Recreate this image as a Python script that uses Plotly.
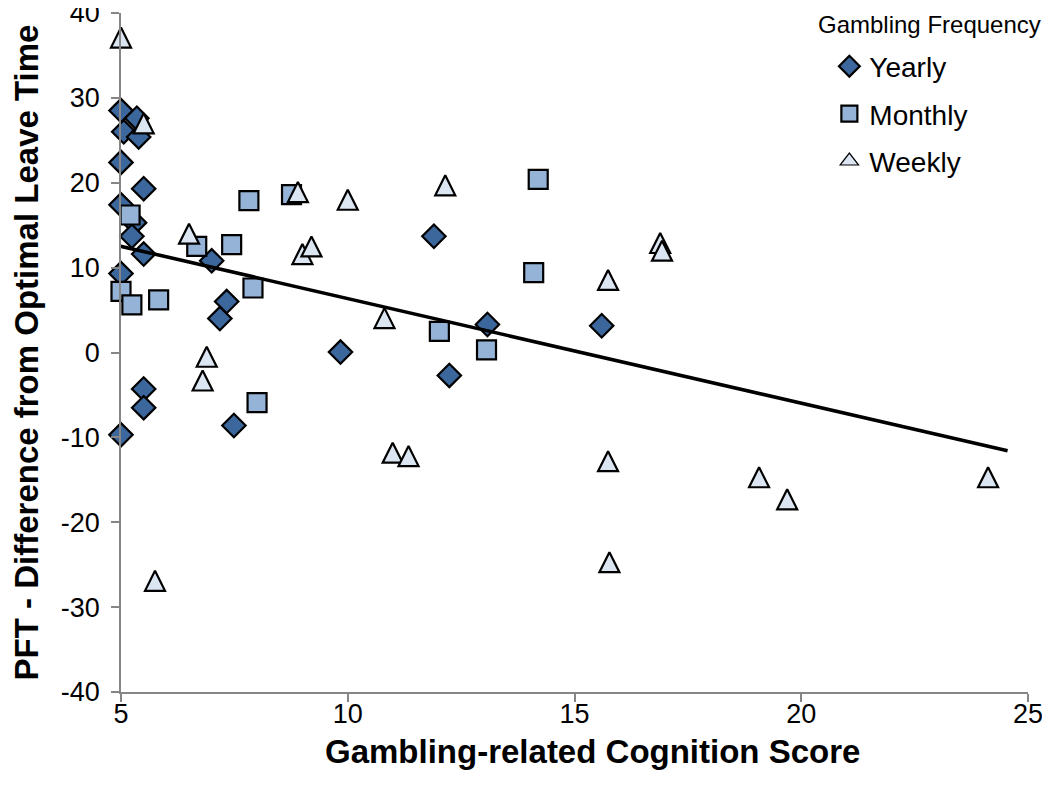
import plotly.graph_objects as go
import numpy as np

# ---- data ----
yearly_x = [5.0, 5.06, 5.35, 5.39, 5.0, 5.5, 5.0, 5.3, 5.24, 5.5, 7.0, 5.0, 7.33, 7.18,
            5.5, 5.5, 7.49, 5.0, 9.84, 11.9, 13.08, 12.24, 15.6]
yearly_y = [28.5, 26.0, 27.6, 25.4, 22.4, 19.3, 17.4, 15.3, 13.7, 11.6, 10.8, 9.3, 6.0, 4.0,
            -4.3, -6.5, -8.6, -9.7, 0.05, 13.7, 3.3, -2.7, 3.15]

monthly_x = [5.2, 5.0, 5.24, 5.83, 6.67, 7.44, 7.82, 8.76, 7.91, 8.0, 12.02, 13.06, 14.1, 14.2]
monthly_y = [16.2, 7.2, 5.6, 6.2, 12.5, 12.7, 17.9, 18.6, 7.6, -5.9, 2.5, 0.3, 9.4, 20.4]

weekly_x = [5.0, 5.5, 6.5, 6.89, 6.8, 5.75, 8.9, 9.0, 9.2, 10.0, 10.81, 12.15, 16.89, 16.93,
            15.74, 10.99, 11.34, 15.74, 15.77, 19.07, 19.69, 24.12]
weekly_y = [37.1, 27.0, 14.0, -0.5, -3.3, -26.9, 18.9, 11.6, 12.5, 18.0, 4.05, 19.7, 12.9, 12.0,
            8.55, -11.8, -12.2, -12.8, -24.7, -14.7, -17.3, -14.7]

series_names = ["Yearly", "Monthly", "Weekly"]
trend_intercept = 18.67
trend_slope = -1.232
trend_x_range = [4.95, 24.55]

x_ticks = [5, 10, 15, 20, 25]
x_ticktext = ["5", "10", "15", "20", "25"]
y_ticks = [-40, -30, -20, -10, 0, 10, 20, 30, 40]
y_ticktext = ["-40", "-30", "-20", "-10", "0", "10", "20", "30", "40"]

x_title = "Gambling-related Cognition Score"
y_title = "PFT - Difference from Optimal Leave Time"
legend_title = "Gambling Frequency"

# ---- figure ----
FONT = "Liberation Sans, Arial, sans-serif"
fig = go.Figure()

fig.add_trace(go.Scatter(
    x=yearly_x, y=yearly_y, mode="markers", name=series_names[0], legendgroup="a",
    cliponaxis=False,
    marker=dict(symbol="diamond", size=18, color="#3B679C",
                line=dict(color="#000000", width=2.2))))
fig.add_trace(go.Scatter(
    x=monthly_x, y=monthly_y, mode="markers", name=series_names[1], legendgroup="b",
    cliponaxis=False,
    marker=dict(symbol="square", size=19, color="#95B3D7",
                line=dict(color="#000000", width=2.2))))
fig.add_trace(go.Scatter(
    x=weekly_x, y=weekly_y, mode="markers", name=series_names[2], legendgroup="c",
    showlegend=False, cliponaxis=False,
    marker=dict(symbol="arrow-down", angle=180, standoff=10, size=20, color="#DCE6F2",
                line=dict(color="#000000", width=2.2))))
# legend entry for the weekly series (same series, drawn with the plain triangle symbol)
fig.add_trace(go.Scatter(
    x=[None], y=[None], mode="markers", name=series_names[2], legendgroup="c",
    marker=dict(symbol="triangle-up", size=16, color="#DCE6F2",
                line=dict(color="#000000", width=1.2))))

tx = np.array(trend_x_range)
fig.add_trace(go.Scatter(
    x=tx, y=trend_intercept + trend_slope * tx, mode="lines", showlegend=False,
    cliponaxis=False,
    line=dict(color="#000000", width=3.6), hoverinfo="skip"))

axis_common = dict(showgrid=False, zeroline=False, showline=True, linecolor="#868686",
                   linewidth=1.5, ticks="outside", ticklen=8, tickcolor="#868686",
                   tickwidth=1.5, automargin=False, ticklabeloverflow="allow",
                   tickfont=dict(family=FONT, size=27, color="#000000"))

fig.update_xaxes(range=[5, 25], tickvals=x_ticks, ticktext=x_ticktext,
                 ticklabelstandoff=-11, **axis_common)
fig.update_yaxes(range=[-40, 40], tickvals=y_ticks, ticktext=y_ticktext,
                 ticklabelstandoff=6, **axis_common,
                 title=dict(text=y_title, font=dict(family=FONT, size=33, color="#000000",
                                                     weight="bold"), standoff=27))

fig.add_annotation(text=x_title, xref="paper", yref="paper", x=0.52, y=-0.087,
                   xanchor="center", yanchor="middle", showarrow=False,
                   font=dict(family=FONT, size=33, color="#000000", weight="bold"))

fig.add_annotation(text=legend_title, xref="paper", yref="paper", x=0.766, y=0.983,
                   xanchor="left", yanchor="middle", showarrow=False,
                   font=dict(family=FONT, size=24, color="#000000"))

# page body has an 8px margin, so the figure is sized to end inside the 1050x792 window
fig.update_layout(
    width=1042, height=784,
    margin=dict(l=113, r=22, t=5, b=100),
    plot_bgcolor="white", paper_bgcolor="white",
    legend=dict(x=0.781, y=0.958, xanchor="left", yanchor="top",
                font=dict(family=FONT, size=28, color="#000000"),
                tracegroupgap=8, bgcolor="rgba(0,0,0,0)", itemwidth=30),
)

fig.write_html("out.html")
